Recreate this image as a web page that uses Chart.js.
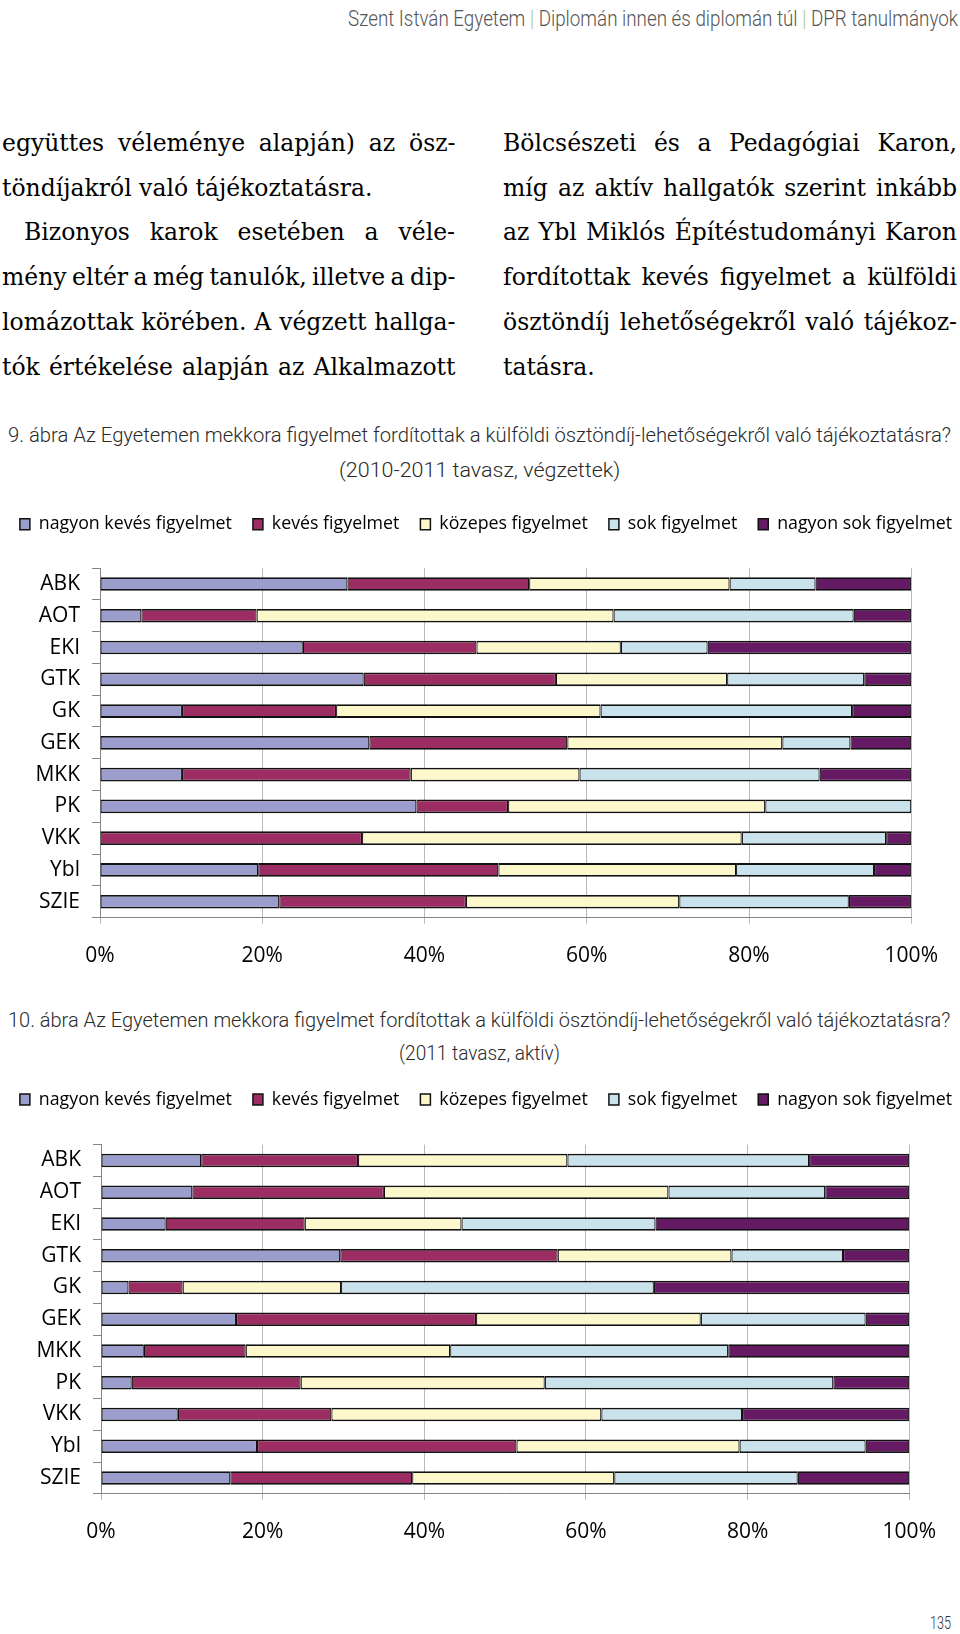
<!DOCTYPE html>
<html>
<head>
<meta charset="utf-8">
<script src="https://cdn.jsdelivr.net/npm/chart.js@4.4.0/dist/chart.umd.min.js"></script>
<style>
html,body{margin:0;padding:0;background:#fff;}
body{width:960px;height:1634px;position:relative;overflow:hidden;}
.t{position:absolute;white-space:nowrap;transform-origin:0 50%;}
.body{font-family:"DejaVu Serif Condensed","DejaVu Serif",serif;font-stretch:condensed;font-size:24px;line-height:45px;color:#000;}
.cap{font-family:Roboto,"Liberation Sans",sans-serif;font-weight:300;color:#2a2a2a;}
.sep{color:#a9c47f;}
canvas{position:absolute;left:0;}
</style>
</head>
<body>
<div id="texts"></div>
<canvas id="c1" width="960" height="498" style="top:480px"></canvas>
<canvas id="c2" width="960" height="498" style="top:1056px"></canvas>
<script>
// ---------- DATA ----------
const categories = ['ABK','AOT','EKI','GTK','GK','GEK','MKK','PK','VKK','Ybl','SZIE'];
const seriesNames = ['nagyon kevés figyelmet','kevés figyelmet','közepes figyelmet','sok figyelmet','nagyon sok figyelmet'];
const xTickLabels = ['0%','20%','40%','60%','80%','100%'];

// 9. ábra (2010-2011 tavasz, végzettek)
const grad_nagyonKeves = [30.5, 5.1, 25.0, 32.5, 10.1, 33.2, 10.1, 39.0, 0,    19.5, 22.1];
const grad_keves       = [22.4, 14.2, 21.4, 23.7, 19.0, 24.4, 28.2, 11.3, 32.3, 29.6, 23.0];
const grad_kozepes     = [24.7, 44.0, 17.8, 21.1, 32.6, 26.5, 20.8, 31.7, 46.8, 29.3, 26.3];
const grad_sok         = [10.6, 29.6, 10.7, 16.9, 31.0, 8.4,  29.6, 18.0, 17.8, 17.0, 20.9];
const grad_nagyonSok   = [11.8, 7.1,  25.1, 5.8,  7.3,  7.5,  11.3, 0,    3.1,  4.6,  7.7];

// 10. ábra (2011 tavasz, aktív)
const act_nagyonKeves = [12.4, 11.3, 8.0,  29.6, 3.4,  16.7, 5.3,  3.8,  9.5,  19.3, 16.0];
const act_keves       = [19.4, 23.7, 17.2, 26.9, 6.7,  29.7, 12.6, 20.9, 19.0, 32.1, 22.5];
const act_kozepes     = [25.9, 35.2, 19.4, 21.5, 19.6, 27.8, 25.3, 30.2, 33.4, 27.6, 25.0];
const act_sok         = [29.9, 19.4, 24.0, 13.8, 38.7, 20.4, 34.4, 35.7, 17.4, 15.6, 22.7];
const act_nagyonSok   = [12.4, 10.4, 31.4, 8.2,  31.6, 5.4,  22.4, 9.4,  20.7, 5.4,  13.8];

// ---------- STYLES ----------
const colors = ['#9b9dcc','#9b2d62','#fdf8cc','#cae2ec','#661a64'];

// ---------- TEXT ----------
const texts = document.getElementById('texts');
function mk(cls, html, size, color){
  const d = document.createElement('div');
  d.className = 't ' + cls;
  d.innerHTML = html;
  if (size) d.style.fontSize = size + 'px';
  if (color) d.style.color = color;
  texts.appendChild(d);
  return d;
}
const fitItems = [
  {html:'Szent István Egyetem <span class="sep">|</span> Diplomán innen és diplomán túl <span class="sep">|</span> DPR tanulmányok', l:348, r:958, cy:18.8, size:22, color:'#555'},
  {html:'9. ábra Az Egyetemen mekkora figyelmet fordítottak a külföldi ösztöndíj-lehetőségekről való tájékoztatásra?', l:8, r:951, cy:435.7, size:21},
  {html:'(2010-2011 tavasz, végzettek)', l:338.7, r:620, cy:471, size:21},
  {html:'10. ábra Az Egyetemen mekkora figyelmet fordítottak a külföldi ösztöndíj-lehetőségekről való tájékoztatásra?', l:8.3, r:950.6, cy:1020.4, size:21},
  {html:'(2011 tavasz, aktív)', l:399, r:560, cy:1054, size:21},
  {html:'135', l:930, r:951, cy:1623, size:18, color:'#333'}
];
const bodyLines = [
  {t:'együttes véleménye alapján) az ösz-', l:1.5, r:455, j:true, row:0},
  {t:'töndíjakról való tájékoztatásra.', l:1.5, r:372, j:false, row:1},
  {t:'Bizonyos karok esetében a véle-', l:24, r:455, j:true, row:2},
  {t:'mény eltér a még tanulók, illetve a dip-', l:1.5, r:455, j:true, row:3},
  {t:'lomázottak körében. A végzett hallga-', l:1.5, r:455, j:true, row:4},
  {t:'tók értékelése alapján az Alkalmazott', l:1.5, r:455, j:true, row:5},
  {t:'Bölcsészeti és a Pedagógiai Karon,', l:503, r:957, j:true, row:0},
  {t:'míg az aktív hallgatók szerint inkább', l:503, r:957, j:true, row:1},
  {t:'az Ybl Miklós Építéstudományi Karon', l:503, r:957, j:true, row:2},
  {t:'fordítottak kevés figyelmet a külföldi', l:503, r:957, j:true, row:3},
  {t:'ösztöndíj lehetőségekről való tájékoz-', l:503, r:957, j:true, row:4},
  {t:'tatásra.', l:503, r:592, j:false, row:5}
];

function layoutTexts(){
  texts.innerHTML = '';
  fitItems.forEach(it=>{
    const d = mk('cap', it.html, it.size, it.color);
    const lh = it.size * 1.2;
    d.style.lineHeight = lh + 'px';
    const w = d.getBoundingClientRect().width;
    d.style.left = it.l + 'px';
    d.style.top = (it.cy - lh/2) + 'px';
    d.style.transform = 'scaleX(' + ((it.r - it.l) / w) + ')';
  });
  const els = bodyLines.map(b=>{
    const d = mk('body', b.t);
    return {d, b, w: d.getBoundingClientRect().width};
  });
  const ref = els[1];
  const k = (ref.b.r - ref.b.l) / ref.w;
  els.forEach(({d,b,w})=>{
    const size = 24, lh = 45;
    const yc = 145 + 44.8 * b.row;
    d.style.left = b.l + 'px';
    d.style.top = (yc - (lh/2 + 0.073*size)) + 'px';
    d.style.transform = 'scaleX(' + k + ')';
    if (b.j) {
      const n = (b.t.match(/ /g) || []).length;
      const ws = ((b.r - b.l) / k - w) / n;
      d.style.wordSpacing = ws + 'px';
    }
  });
}
layoutTexts();

// ---------- CHARTS ----------
function legendGap(extra){
  return {
    id:'legendGap',
    beforeLayout(chart){
      const lg = chart.legend;
      if (lg && !lg._gp){
        const f = lg.fit;
        lg.fit = function(){ f.call(this); this.height += extra; };
        lg._gp = true;
      }
    }
  };
}

function makeChart(id, sets, opt){
  const datasets = seriesNames.map((n,i)=>({
    label:n,
    data:sets[i],
    backgroundColor:colors[i],
    borderColor:'#111',
    borderWidth:{top:1.8,bottom:1.8,left:1.2,right:1.2},
    borderSkipped:false,
    barPercentage:0.43,
    categoryPercentage:1
  }));
  return new Chart(document.getElementById(id), {
    type:'bar',
    data:{labels:categories, datasets},
    options:{
      indexAxis:'y',
      responsive:false,
      animation:false,
      devicePixelRatio:1,
      layout:{padding:{top:opt.padTop, left:-31, right:-43, bottom:0}},
      plugins:{
        legend:{display:true, position:'top',
          labels:{boxWidth:10, boxHeight:11, padding:21, color:'#000', font:{family:'Open Sans', size:17.8}}},
        tooltip:{enabled:false}
      },
      scales:{
        x:{type:'linear', stacked:true, min:0, max:100,
          ticks:{stepSize:20, padding:20, color:'#000', font:{family:'Open Sans', size:21},
            callback:v=>xTickLabels[Math.round(v/20)]},
          grid:{color:'#b9b9b9', tickLength:6, drawTicks:true},
          border:{color:'#858585'},
          afterFit:s=>{ s.height = opt.xHeight; }},
        y:{type:'category', stacked:true,
          ticks:{padding:12, color:'#000', font:{family:'Open Sans', size:21}},
          grid:{drawOnChartArea:false, drawTicks:true, tickLength:8, color:'#858585', offset:true},
          border:{color:'#858585'},
          afterFit:s=>{ s.width = opt.yWidth; }},
        yR:{type:'category', position:'right', display:true,
          grid:{display:false}, border:{display:false}, ticks:{display:false},
          afterFit:s=>{ s.width = opt.rWidth; }}
      }
    },
    plugins:[legendGap(opt.extra)]
  });
}

makeChart('c1', [grad_nagyonKeves, grad_keves, grad_kozepes, grad_sok, grad_nagyonSok],
  {padTop:14.4, extra:24.9, yWidth:131, rWidth:91.7, xHeight:60.4});
makeChart('c2', [act_nagyonKeves, act_keves, act_kozepes, act_sok, act_nagyonSok],
  {padTop:13.7, extra:26.1, yWidth:132, rWidth:93.7, xHeight:60.1});
</script>
</body>
</html>
